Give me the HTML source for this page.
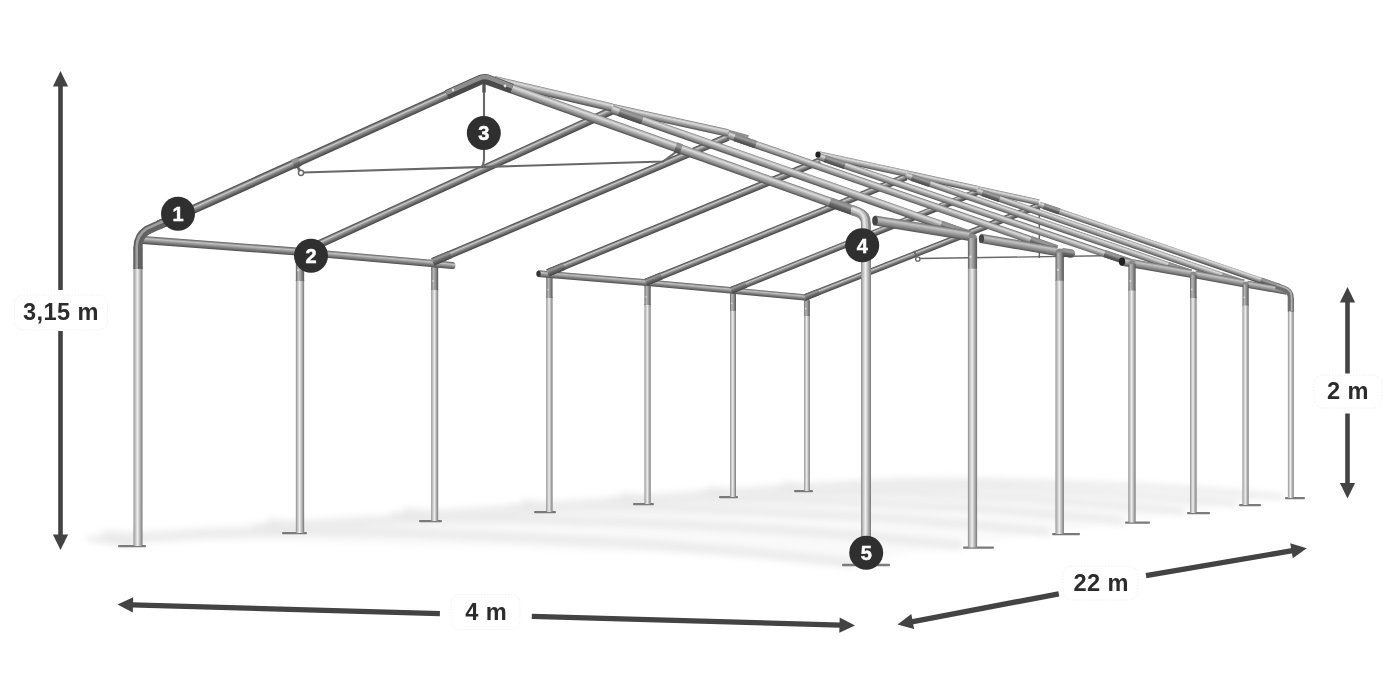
<!DOCTYPE html>
<html lang="en"><head><meta charset="utf-8"><title>Tent frame dimensions</title>
<style>html,body{margin:0;padding:0;background:#fff}body{width:1400px;height:700px;overflow:hidden}
svg{display:block;will-change:transform;font-family:"Liberation Sans",sans-serif}</style></head>
<body><svg width="1400" height="700" viewBox="0 0 1400 700">
<defs><filter id="bl" x="-5%" y="-30%" width="110%" height="160%"><feGaussianBlur stdDeviation="3"/></filter>
<linearGradient id="g1" gradientUnits="userSpaceOnUse" x1="804.15" y1="315.00" x2="809.85" y2="315.00"><stop offset="0" stop-color="#848484"/><stop offset="0.12" stop-color="#b0b0b0"/><stop offset="0.3" stop-color="#d2d2d2"/><stop offset="0.45" stop-color="#f0f0f0"/><stop offset="0.62" stop-color="#cacaca"/><stop offset="0.85" stop-color="#9a9a9a"/><stop offset="1" stop-color="#767676"/></linearGradient>
<linearGradient id="g2" gradientUnits="userSpaceOnUse" x1="804.15" y1="300.85" x2="809.85" y2="300.85"><stop offset="0" stop-color="#5c5c5c"/><stop offset="0.3" stop-color="#b8b8b8"/><stop offset="0.55" stop-color="#9c9c9c"/><stop offset="1" stop-color="#545454"/></linearGradient>
<linearGradient id="g3" gradientUnits="userSpaceOnUse" x1="730.00" y1="310.00" x2="736.00" y2="310.00"><stop offset="0" stop-color="#848484"/><stop offset="0.12" stop-color="#b0b0b0"/><stop offset="0.3" stop-color="#d2d2d2"/><stop offset="0.45" stop-color="#f0f0f0"/><stop offset="0.62" stop-color="#cacaca"/><stop offset="0.85" stop-color="#9a9a9a"/><stop offset="1" stop-color="#767676"/></linearGradient>
<linearGradient id="g4" gradientUnits="userSpaceOnUse" x1="730.00" y1="294.00" x2="736.00" y2="294.00"><stop offset="0" stop-color="#5c5c5c"/><stop offset="0.3" stop-color="#b8b8b8"/><stop offset="0.55" stop-color="#9c9c9c"/><stop offset="1" stop-color="#545454"/></linearGradient>
<linearGradient id="g5" gradientUnits="userSpaceOnUse" x1="644.50" y1="304.00" x2="650.70" y2="304.00"><stop offset="0" stop-color="#848484"/><stop offset="0.12" stop-color="#b0b0b0"/><stop offset="0.3" stop-color="#d2d2d2"/><stop offset="0.45" stop-color="#f0f0f0"/><stop offset="0.62" stop-color="#cacaca"/><stop offset="0.85" stop-color="#9a9a9a"/><stop offset="1" stop-color="#767676"/></linearGradient>
<linearGradient id="g6" gradientUnits="userSpaceOnUse" x1="644.50" y1="286.10" x2="650.70" y2="286.10"><stop offset="0" stop-color="#5c5c5c"/><stop offset="0.3" stop-color="#b8b8b8"/><stop offset="0.55" stop-color="#9c9c9c"/><stop offset="1" stop-color="#545454"/></linearGradient>
<linearGradient id="g7" gradientUnits="userSpaceOnUse" x1="546.25" y1="297.00" x2="552.55" y2="297.00"><stop offset="0" stop-color="#848484"/><stop offset="0.12" stop-color="#b0b0b0"/><stop offset="0.3" stop-color="#d2d2d2"/><stop offset="0.45" stop-color="#f0f0f0"/><stop offset="0.62" stop-color="#cacaca"/><stop offset="0.85" stop-color="#9a9a9a"/><stop offset="1" stop-color="#767676"/></linearGradient>
<linearGradient id="g8" gradientUnits="userSpaceOnUse" x1="546.25" y1="277.15" x2="552.55" y2="277.15"><stop offset="0" stop-color="#5c5c5c"/><stop offset="0.3" stop-color="#b8b8b8"/><stop offset="0.55" stop-color="#9c9c9c"/><stop offset="1" stop-color="#545454"/></linearGradient>
<linearGradient id="g9" gradientUnits="userSpaceOnUse" x1="431.20" y1="289.00" x2="438.20" y2="289.00"><stop offset="0" stop-color="#848484"/><stop offset="0.12" stop-color="#b0b0b0"/><stop offset="0.3" stop-color="#d2d2d2"/><stop offset="0.45" stop-color="#f0f0f0"/><stop offset="0.62" stop-color="#cacaca"/><stop offset="0.85" stop-color="#9a9a9a"/><stop offset="1" stop-color="#767676"/></linearGradient>
<linearGradient id="g10" gradientUnits="userSpaceOnUse" x1="431.20" y1="267.50" x2="438.20" y2="267.50"><stop offset="0" stop-color="#5c5c5c"/><stop offset="0.3" stop-color="#b8b8b8"/><stop offset="0.55" stop-color="#9c9c9c"/><stop offset="1" stop-color="#545454"/></linearGradient>
<linearGradient id="g11" gradientUnits="userSpaceOnUse" x1="295.85" y1="280.00" x2="304.15" y2="280.00"><stop offset="0" stop-color="#848484"/><stop offset="0.12" stop-color="#b0b0b0"/><stop offset="0.3" stop-color="#d2d2d2"/><stop offset="0.45" stop-color="#f0f0f0"/><stop offset="0.62" stop-color="#cacaca"/><stop offset="0.85" stop-color="#9a9a9a"/><stop offset="1" stop-color="#767676"/></linearGradient>
<linearGradient id="g12" gradientUnits="userSpaceOnUse" x1="295.85" y1="256.15" x2="304.15" y2="256.15"><stop offset="0" stop-color="#5c5c5c"/><stop offset="0.3" stop-color="#b8b8b8"/><stop offset="0.55" stop-color="#9c9c9c"/><stop offset="1" stop-color="#545454"/></linearGradient>
<linearGradient id="g13" gradientUnits="userSpaceOnUse" x1="133.50" y1="268.00" x2="142.50" y2="268.00"><stop offset="0" stop-color="#848484"/><stop offset="0.12" stop-color="#b0b0b0"/><stop offset="0.3" stop-color="#d2d2d2"/><stop offset="0.45" stop-color="#f0f0f0"/><stop offset="0.62" stop-color="#cacaca"/><stop offset="0.85" stop-color="#9a9a9a"/><stop offset="1" stop-color="#767676"/></linearGradient>
<linearGradient id="g14" gradientUnits="userSpaceOnUse" x1="133.50" y1="247.50" x2="142.50" y2="247.50"><stop offset="0" stop-color="#5c5c5c"/><stop offset="0.3" stop-color="#b8b8b8"/><stop offset="0.55" stop-color="#9c9c9c"/><stop offset="1" stop-color="#545454"/></linearGradient>
<linearGradient id="g15" gradientUnits="userSpaceOnUse" x1="538.28" y1="270.21" x2="537.72" y2="276.99"><stop offset="0" stop-color="#5c5c5c"/><stop offset="0.12" stop-color="#808080"/><stop offset="0.3" stop-color="#c2c2c2"/><stop offset="0.5" stop-color="#9c9c9c"/><stop offset="0.8" stop-color="#6c6c6c"/><stop offset="1" stop-color="#4c4c4c"/></linearGradient>
<linearGradient id="g16" gradientUnits="userSpaceOnUse" x1="648.30" y1="279.46" x2="647.70" y2="285.94"><stop offset="0" stop-color="#5c5c5c"/><stop offset="0.12" stop-color="#808080"/><stop offset="0.3" stop-color="#c2c2c2"/><stop offset="0.5" stop-color="#9c9c9c"/><stop offset="0.8" stop-color="#6c6c6c"/><stop offset="1" stop-color="#4c4c4c"/></linearGradient>
<linearGradient id="g17" gradientUnits="userSpaceOnUse" x1="733.29" y1="287.51" x2="732.71" y2="293.69"><stop offset="0" stop-color="#5c5c5c"/><stop offset="0.12" stop-color="#808080"/><stop offset="0.3" stop-color="#c2c2c2"/><stop offset="0.5" stop-color="#9c9c9c"/><stop offset="0.8" stop-color="#6c6c6c"/><stop offset="1" stop-color="#4c4c4c"/></linearGradient>
<linearGradient id="g18" gradientUnits="userSpaceOnUse" x1="143.30" y1="236.01" x2="142.70" y2="243.99"><stop offset="0" stop-color="#5c5c5c"/><stop offset="0.12" stop-color="#808080"/><stop offset="0.3" stop-color="#c2c2c2"/><stop offset="0.5" stop-color="#9c9c9c"/><stop offset="0.8" stop-color="#6c6c6c"/><stop offset="1" stop-color="#4c4c4c"/></linearGradient>
<linearGradient id="g19" gradientUnits="userSpaceOnUse" x1="300.32" y1="248.21" x2="299.68" y2="255.59"><stop offset="0" stop-color="#5c5c5c"/><stop offset="0.12" stop-color="#808080"/><stop offset="0.3" stop-color="#c2c2c2"/><stop offset="0.5" stop-color="#9c9c9c"/><stop offset="0.8" stop-color="#6c6c6c"/><stop offset="1" stop-color="#4c4c4c"/></linearGradient>
<linearGradient id="g20" gradientUnits="userSpaceOnUse" x1="436.35" y1="260.52" x2="435.65" y2="267.48"><stop offset="0" stop-color="#5c5c5c"/><stop offset="0.12" stop-color="#808080"/><stop offset="0.3" stop-color="#c2c2c2"/><stop offset="0.5" stop-color="#9c9c9c"/><stop offset="0.8" stop-color="#6c6c6c"/><stop offset="1" stop-color="#4c4c4c"/></linearGradient>
<linearGradient id="g21" gradientUnits="userSpaceOnUse" x1="804.09" y1="294.35" x2="806.39" y2="300.21"><stop offset="0" stop-color="#4c4c4c"/><stop offset="0.1" stop-color="#5c5c5c"/><stop offset="0.2" stop-color="#8a8a8a"/><stop offset="0.33" stop-color="#cecece"/><stop offset="0.46" stop-color="#9c9c9c"/><stop offset="0.72" stop-color="#6c6c6c"/><stop offset="0.9" stop-color="#505050"/><stop offset="1" stop-color="#444"/></linearGradient>
<linearGradient id="g22" gradientUnits="userSpaceOnUse" x1="804.04" y1="294.21" x2="806.45" y2="300.35"><stop offset="0" stop-color="#555"/><stop offset="0.3" stop-color="#9a9a9a"/><stop offset="0.55" stop-color="#707070"/><stop offset="1" stop-color="#444"/></linearGradient>
<linearGradient id="g23" gradientUnits="userSpaceOnUse" x1="730.02" y1="287.24" x2="732.48" y2="293.36"><stop offset="0" stop-color="#4c4c4c"/><stop offset="0.1" stop-color="#5c5c5c"/><stop offset="0.2" stop-color="#8a8a8a"/><stop offset="0.33" stop-color="#cecece"/><stop offset="0.46" stop-color="#9c9c9c"/><stop offset="0.72" stop-color="#6c6c6c"/><stop offset="0.9" stop-color="#505050"/><stop offset="1" stop-color="#444"/></linearGradient>
<linearGradient id="g24" gradientUnits="userSpaceOnUse" x1="729.97" y1="287.10" x2="732.53" y2="293.50"><stop offset="0" stop-color="#555"/><stop offset="0.3" stop-color="#9a9a9a"/><stop offset="0.55" stop-color="#707070"/><stop offset="1" stop-color="#444"/></linearGradient>
<linearGradient id="g25" gradientUnits="userSpaceOnUse" x1="644.44" y1="279.07" x2="647.07" y2="285.56"><stop offset="0" stop-color="#4c4c4c"/><stop offset="0.1" stop-color="#5c5c5c"/><stop offset="0.2" stop-color="#8a8a8a"/><stop offset="0.33" stop-color="#cecece"/><stop offset="0.46" stop-color="#9c9c9c"/><stop offset="0.72" stop-color="#6c6c6c"/><stop offset="0.9" stop-color="#505050"/><stop offset="1" stop-color="#444"/></linearGradient>
<linearGradient id="g26" gradientUnits="userSpaceOnUse" x1="644.39" y1="278.93" x2="647.12" y2="285.70"><stop offset="0" stop-color="#555"/><stop offset="0.3" stop-color="#9a9a9a"/><stop offset="0.55" stop-color="#707070"/><stop offset="1" stop-color="#444"/></linearGradient>
<linearGradient id="g27" gradientUnits="userSpaceOnUse" x1="546.36" y1="269.41" x2="549.17" y2="276.25"><stop offset="0" stop-color="#4c4c4c"/><stop offset="0.1" stop-color="#5c5c5c"/><stop offset="0.2" stop-color="#8a8a8a"/><stop offset="0.33" stop-color="#cecece"/><stop offset="0.46" stop-color="#9c9c9c"/><stop offset="0.72" stop-color="#6c6c6c"/><stop offset="0.9" stop-color="#505050"/><stop offset="1" stop-color="#444"/></linearGradient>
<linearGradient id="g28" gradientUnits="userSpaceOnUse" x1="546.30" y1="269.27" x2="549.23" y2="276.39"><stop offset="0" stop-color="#555"/><stop offset="0.3" stop-color="#9a9a9a"/><stop offset="0.55" stop-color="#707070"/><stop offset="1" stop-color="#444"/></linearGradient>
<linearGradient id="g29" gradientUnits="userSpaceOnUse" x1="431.26" y1="258.27" x2="434.30" y2="265.46"><stop offset="0" stop-color="#4c4c4c"/><stop offset="0.1" stop-color="#5c5c5c"/><stop offset="0.2" stop-color="#8a8a8a"/><stop offset="0.33" stop-color="#cecece"/><stop offset="0.46" stop-color="#9c9c9c"/><stop offset="0.72" stop-color="#6c6c6c"/><stop offset="0.9" stop-color="#505050"/><stop offset="1" stop-color="#444"/></linearGradient>
<linearGradient id="g30" gradientUnits="userSpaceOnUse" x1="431.20" y1="258.13" x2="434.35" y2="265.59"><stop offset="0" stop-color="#555"/><stop offset="0.3" stop-color="#9a9a9a"/><stop offset="0.55" stop-color="#707070"/><stop offset="1" stop-color="#444"/></linearGradient>
<linearGradient id="g31" gradientUnits="userSpaceOnUse" x1="297.09" y1="249.68" x2="300.54" y2="257.23"><stop offset="0" stop-color="#4c4c4c"/><stop offset="0.1" stop-color="#5c5c5c"/><stop offset="0.2" stop-color="#8a8a8a"/><stop offset="0.33" stop-color="#cecece"/><stop offset="0.46" stop-color="#9c9c9c"/><stop offset="0.72" stop-color="#6c6c6c"/><stop offset="0.9" stop-color="#505050"/><stop offset="1" stop-color="#444"/></linearGradient>
<linearGradient id="g32" gradientUnits="userSpaceOnUse" x1="297.03" y1="249.54" x2="300.60" y2="257.37"><stop offset="0" stop-color="#555"/><stop offset="0.3" stop-color="#9a9a9a"/><stop offset="0.55" stop-color="#707070"/><stop offset="1" stop-color="#444"/></linearGradient>
<linearGradient id="g33" gradientUnits="userSpaceOnUse" x1="156.19" y1="221.29" x2="159.81" y2="229.31"><stop offset="0" stop-color="#4c4c4c"/><stop offset="0.1" stop-color="#5c5c5c"/><stop offset="0.2" stop-color="#8a8a8a"/><stop offset="0.33" stop-color="#cecece"/><stop offset="0.46" stop-color="#9c9c9c"/><stop offset="0.72" stop-color="#6c6c6c"/><stop offset="0.9" stop-color="#505050"/><stop offset="1" stop-color="#444"/></linearGradient>
<linearGradient id="g34" gradientUnits="userSpaceOnUse" x1="156.13" y1="221.15" x2="159.87" y2="229.45"><stop offset="0" stop-color="#555"/><stop offset="0.3" stop-color="#9a9a9a"/><stop offset="0.55" stop-color="#707070"/><stop offset="1" stop-color="#444"/></linearGradient>
<linearGradient id="g35" gradientUnits="userSpaceOnUse" x1="291.09" y1="159.83" x2="295.12" y2="168.76"><stop offset="0" stop-color="#868686"/><stop offset="0.35" stop-color="#9c9c9c"/><stop offset="0.6" stop-color="#666"/><stop offset="1" stop-color="#484848"/></linearGradient>
<linearGradient id="g36" gradientUnits="userSpaceOnUse" x1="977.65" y1="186.02" x2="976.35" y2="191.98"><stop offset="0" stop-color="#787878"/><stop offset="0.12" stop-color="#b8b8b8"/><stop offset="0.28" stop-color="#dcdcdc"/><stop offset="0.5" stop-color="#b0b0b0"/><stop offset="0.78" stop-color="#808080"/><stop offset="0.92" stop-color="#5c5c5c"/><stop offset="1" stop-color="#4e4e4e"/></linearGradient>
<linearGradient id="g37" gradientUnits="userSpaceOnUse" x1="906.68" y1="170.37" x2="905.32" y2="176.63"><stop offset="0" stop-color="#787878"/><stop offset="0.12" stop-color="#b8b8b8"/><stop offset="0.28" stop-color="#dcdcdc"/><stop offset="0.5" stop-color="#b0b0b0"/><stop offset="0.78" stop-color="#808080"/><stop offset="0.92" stop-color="#5c5c5c"/><stop offset="1" stop-color="#4e4e4e"/></linearGradient>
<linearGradient id="g38" gradientUnits="userSpaceOnUse" x1="819.22" y1="151.18" x2="817.78" y2="157.82"><stop offset="0" stop-color="#787878"/><stop offset="0.12" stop-color="#b8b8b8"/><stop offset="0.28" stop-color="#dcdcdc"/><stop offset="0.5" stop-color="#b0b0b0"/><stop offset="0.78" stop-color="#808080"/><stop offset="0.92" stop-color="#5c5c5c"/><stop offset="1" stop-color="#4e4e4e"/></linearGradient>
<linearGradient id="g39" gradientUnits="userSpaceOnUse" x1="1039.97" y1="201.66" x2="1038.03" y2="207.34"><stop offset="0" stop-color="#787878"/><stop offset="0.12" stop-color="#b8b8b8"/><stop offset="0.28" stop-color="#dcdcdc"/><stop offset="0.5" stop-color="#b0b0b0"/><stop offset="0.78" stop-color="#808080"/><stop offset="0.92" stop-color="#5c5c5c"/><stop offset="1" stop-color="#4e4e4e"/></linearGradient>
<linearGradient id="g40" gradientUnits="userSpaceOnUse" x1="1044.83" y1="203.22" x2="1042.81" y2="209.09"><stop offset="0" stop-color="#868686"/><stop offset="0.35" stop-color="#9c9c9c"/><stop offset="0.6" stop-color="#666"/><stop offset="1" stop-color="#484848"/></linearGradient>
<linearGradient id="g41" gradientUnits="userSpaceOnUse" x1="1261.76" y1="277.56" x2="1259.68" y2="283.61"><stop offset="0" stop-color="#868686"/><stop offset="0.35" stop-color="#9c9c9c"/><stop offset="0.6" stop-color="#666"/><stop offset="1" stop-color="#484848"/></linearGradient>
<linearGradient id="g42" gradientUnits="userSpaceOnUse" x1="978.03" y1="188.02" x2="975.97" y2="193.98"><stop offset="0" stop-color="#787878"/><stop offset="0.12" stop-color="#b8b8b8"/><stop offset="0.28" stop-color="#dcdcdc"/><stop offset="0.5" stop-color="#b0b0b0"/><stop offset="0.78" stop-color="#808080"/><stop offset="0.92" stop-color="#5c5c5c"/><stop offset="1" stop-color="#4e4e4e"/></linearGradient>
<linearGradient id="g43" gradientUnits="userSpaceOnUse" x1="983.38" y1="189.77" x2="981.26" y2="195.91"><stop offset="0" stop-color="#868686"/><stop offset="0.35" stop-color="#9c9c9c"/><stop offset="0.6" stop-color="#666"/><stop offset="1" stop-color="#484848"/></linearGradient>
<linearGradient id="g44" gradientUnits="userSpaceOnUse" x1="1222.82" y1="272.47" x2="1220.62" y2="278.81"><stop offset="0" stop-color="#868686"/><stop offset="0.35" stop-color="#9c9c9c"/><stop offset="0.6" stop-color="#666"/><stop offset="1" stop-color="#484848"/></linearGradient>
<linearGradient id="g45" gradientUnits="userSpaceOnUse" x1="907.07" y1="172.38" x2="904.93" y2="178.62"><stop offset="0" stop-color="#787878"/><stop offset="0.12" stop-color="#b8b8b8"/><stop offset="0.28" stop-color="#dcdcdc"/><stop offset="0.5" stop-color="#b0b0b0"/><stop offset="0.78" stop-color="#808080"/><stop offset="0.92" stop-color="#5c5c5c"/><stop offset="1" stop-color="#4e4e4e"/></linearGradient>
<linearGradient id="g46" gradientUnits="userSpaceOnUse" x1="912.80" y1="174.23" x2="910.59" y2="180.67"><stop offset="0" stop-color="#868686"/><stop offset="0.35" stop-color="#9c9c9c"/><stop offset="0.6" stop-color="#666"/><stop offset="1" stop-color="#484848"/></linearGradient>
<linearGradient id="g47" gradientUnits="userSpaceOnUse" x1="1169.06" y1="261.89" x2="1166.79" y2="268.51"><stop offset="0" stop-color="#868686"/><stop offset="0.35" stop-color="#9c9c9c"/><stop offset="0.6" stop-color="#666"/><stop offset="1" stop-color="#484848"/></linearGradient>
<linearGradient id="g48" gradientUnits="userSpaceOnUse" x1="819.63" y1="153.19" x2="817.37" y2="159.81"><stop offset="0" stop-color="#787878"/><stop offset="0.12" stop-color="#b8b8b8"/><stop offset="0.28" stop-color="#dcdcdc"/><stop offset="0.5" stop-color="#b0b0b0"/><stop offset="0.78" stop-color="#808080"/><stop offset="0.92" stop-color="#5c5c5c"/><stop offset="1" stop-color="#4e4e4e"/></linearGradient>
<linearGradient id="g49" gradientUnits="userSpaceOnUse" x1="825.87" y1="155.20" x2="823.56" y2="162.02"><stop offset="0" stop-color="#868686"/><stop offset="0.35" stop-color="#9c9c9c"/><stop offset="0.6" stop-color="#666"/><stop offset="1" stop-color="#484848"/></linearGradient>
<linearGradient id="g50" gradientUnits="userSpaceOnUse" x1="1105.63" y1="250.06" x2="1103.25" y2="257.06"><stop offset="0" stop-color="#868686"/><stop offset="0.35" stop-color="#9c9c9c"/><stop offset="0.6" stop-color="#666"/><stop offset="1" stop-color="#484848"/></linearGradient>
<linearGradient id="g51" gradientUnits="userSpaceOnUse" x1="1121.73" y1="257.16" x2="1120.27" y2="265.44"><stop offset="0" stop-color="#6a6a6a"/><stop offset="0.1" stop-color="#8c8c8c"/><stop offset="0.28" stop-color="#c4c4c4"/><stop offset="0.5" stop-color="#a4a4a4"/><stop offset="0.8" stop-color="#787878"/><stop offset="1" stop-color="#505050"/></linearGradient>
<linearGradient id="g52" gradientUnits="userSpaceOnUse" x1="1195.70" y1="270.61" x2="1194.30" y2="278.19"><stop offset="0" stop-color="#6a6a6a"/><stop offset="0.1" stop-color="#8c8c8c"/><stop offset="0.28" stop-color="#c4c4c4"/><stop offset="0.5" stop-color="#a4a4a4"/><stop offset="0.8" stop-color="#787878"/><stop offset="1" stop-color="#505050"/></linearGradient>
<linearGradient id="g53" gradientUnits="userSpaceOnUse" x1="1247.61" y1="280.75" x2="1246.39" y2="287.65"><stop offset="0" stop-color="#6a6a6a"/><stop offset="0.1" stop-color="#8c8c8c"/><stop offset="0.28" stop-color="#c4c4c4"/><stop offset="0.5" stop-color="#a4a4a4"/><stop offset="0.8" stop-color="#787878"/><stop offset="1" stop-color="#505050"/></linearGradient>
<linearGradient id="g54" gradientUnits="userSpaceOnUse" x1="1287.90" y1="310.80" x2="1293.70" y2="310.80"><stop offset="0" stop-color="#848484"/><stop offset="0.12" stop-color="#b0b0b0"/><stop offset="0.3" stop-color="#d2d2d2"/><stop offset="0.45" stop-color="#f0f0f0"/><stop offset="0.62" stop-color="#cacaca"/><stop offset="0.85" stop-color="#9a9a9a"/><stop offset="1" stop-color="#767676"/></linearGradient>
<linearGradient id="g55" gradientUnits="userSpaceOnUse" x1="1287.90" y1="298.90" x2="1293.70" y2="298.90"><stop offset="0" stop-color="#5c5c5c"/><stop offset="0.3" stop-color="#b8b8b8"/><stop offset="0.55" stop-color="#9c9c9c"/><stop offset="1" stop-color="#545454"/></linearGradient>
<linearGradient id="g56" gradientUnits="userSpaceOnUse" x1="1242.50" y1="304.50" x2="1248.70" y2="304.50"><stop offset="0" stop-color="#848484"/><stop offset="0.12" stop-color="#b0b0b0"/><stop offset="0.3" stop-color="#d2d2d2"/><stop offset="0.45" stop-color="#f0f0f0"/><stop offset="0.62" stop-color="#cacaca"/><stop offset="0.85" stop-color="#9a9a9a"/><stop offset="1" stop-color="#767676"/></linearGradient>
<linearGradient id="g57" gradientUnits="userSpaceOnUse" x1="1242.50" y1="284.60" x2="1248.70" y2="284.60"><stop offset="0" stop-color="#5c5c5c"/><stop offset="0.3" stop-color="#b8b8b8"/><stop offset="0.55" stop-color="#9c9c9c"/><stop offset="1" stop-color="#545454"/></linearGradient>
<linearGradient id="g58" gradientUnits="userSpaceOnUse" x1="1190.00" y1="297.00" x2="1196.60" y2="297.00"><stop offset="0" stop-color="#848484"/><stop offset="0.12" stop-color="#b0b0b0"/><stop offset="0.3" stop-color="#d2d2d2"/><stop offset="0.45" stop-color="#f0f0f0"/><stop offset="0.62" stop-color="#cacaca"/><stop offset="0.85" stop-color="#9a9a9a"/><stop offset="1" stop-color="#767676"/></linearGradient>
<linearGradient id="g59" gradientUnits="userSpaceOnUse" x1="1190.00" y1="274.80" x2="1196.60" y2="274.80"><stop offset="0" stop-color="#5c5c5c"/><stop offset="0.3" stop-color="#b8b8b8"/><stop offset="0.55" stop-color="#9c9c9c"/><stop offset="1" stop-color="#545454"/></linearGradient>
<linearGradient id="g60" gradientUnits="userSpaceOnUse" x1="1128.35" y1="289.50" x2="1135.65" y2="289.50"><stop offset="0" stop-color="#848484"/><stop offset="0.12" stop-color="#b0b0b0"/><stop offset="0.3" stop-color="#d2d2d2"/><stop offset="0.45" stop-color="#f0f0f0"/><stop offset="0.62" stop-color="#cacaca"/><stop offset="0.85" stop-color="#9a9a9a"/><stop offset="1" stop-color="#767676"/></linearGradient>
<linearGradient id="g61" gradientUnits="userSpaceOnUse" x1="1128.35" y1="264.15" x2="1135.65" y2="264.15"><stop offset="0" stop-color="#5c5c5c"/><stop offset="0.3" stop-color="#b8b8b8"/><stop offset="0.55" stop-color="#9c9c9c"/><stop offset="1" stop-color="#545454"/></linearGradient>
<linearGradient id="g62" gradientUnits="userSpaceOnUse" x1="612.82" y1="103.79" x2="611.18" y2="111.21"><stop offset="0" stop-color="#787878"/><stop offset="0.12" stop-color="#b8b8b8"/><stop offset="0.28" stop-color="#dcdcdc"/><stop offset="0.5" stop-color="#b0b0b0"/><stop offset="0.78" stop-color="#808080"/><stop offset="0.92" stop-color="#5c5c5c"/><stop offset="1" stop-color="#4e4e4e"/></linearGradient>
<linearGradient id="g63" gradientUnits="userSpaceOnUse" x1="494.93" y1="75.91" x2="493.07" y2="83.89"><stop offset="0" stop-color="#787878"/><stop offset="0.12" stop-color="#b8b8b8"/><stop offset="0.28" stop-color="#dcdcdc"/><stop offset="0.5" stop-color="#b0b0b0"/><stop offset="0.78" stop-color="#808080"/><stop offset="0.92" stop-color="#5c5c5c"/><stop offset="1" stop-color="#4e4e4e"/></linearGradient>
<linearGradient id="g64" gradientUnits="userSpaceOnUse" x1="728.88" y1="129.82" x2="727.12" y2="136.18"><stop offset="0" stop-color="#868686"/><stop offset="0.35" stop-color="#9c9c9c"/><stop offset="0.6" stop-color="#666"/><stop offset="1" stop-color="#484848"/></linearGradient>
<linearGradient id="g65" gradientUnits="userSpaceOnUse" x1="729.25" y1="131.41" x2="726.75" y2="138.59"><stop offset="0" stop-color="#787878"/><stop offset="0.12" stop-color="#b8b8b8"/><stop offset="0.28" stop-color="#dcdcdc"/><stop offset="0.5" stop-color="#b0b0b0"/><stop offset="0.78" stop-color="#808080"/><stop offset="0.92" stop-color="#5c5c5c"/><stop offset="1" stop-color="#4e4e4e"/></linearGradient>
<linearGradient id="g66" gradientUnits="userSpaceOnUse" x1="735.85" y1="133.60" x2="733.30" y2="140.96"><stop offset="0" stop-color="#868686"/><stop offset="0.35" stop-color="#9c9c9c"/><stop offset="0.6" stop-color="#666"/><stop offset="1" stop-color="#484848"/></linearGradient>
<linearGradient id="g67" gradientUnits="userSpaceOnUse" x1="1031.71" y1="236.10" x2="1029.09" y2="243.66"><stop offset="0" stop-color="#868686"/><stop offset="0.35" stop-color="#9c9c9c"/><stop offset="0.6" stop-color="#666"/><stop offset="1" stop-color="#484848"/></linearGradient>
<linearGradient id="g68" gradientUnits="userSpaceOnUse" x1="613.39" y1="105.54" x2="610.61" y2="113.46"><stop offset="0" stop-color="#787878"/><stop offset="0.12" stop-color="#b8b8b8"/><stop offset="0.28" stop-color="#dcdcdc"/><stop offset="0.5" stop-color="#b0b0b0"/><stop offset="0.78" stop-color="#808080"/><stop offset="0.92" stop-color="#5c5c5c"/><stop offset="1" stop-color="#4e4e4e"/></linearGradient>
<linearGradient id="g69" gradientUnits="userSpaceOnUse" x1="620.57" y1="107.95" x2="617.73" y2="116.07"><stop offset="0" stop-color="#868686"/><stop offset="0.35" stop-color="#9c9c9c"/><stop offset="0.6" stop-color="#666"/><stop offset="1" stop-color="#484848"/></linearGradient>
<linearGradient id="g70" gradientUnits="userSpaceOnUse" x1="942.36" y1="220.81" x2="939.44" y2="229.11"><stop offset="0" stop-color="#868686"/><stop offset="0.35" stop-color="#9c9c9c"/><stop offset="0.6" stop-color="#666"/><stop offset="1" stop-color="#484848"/></linearGradient>
<linearGradient id="g71" gradientUnits="userSpaceOnUse" x1="485.58" y1="74.57" x2="482.42" y2="83.43"><stop offset="0" stop-color="#787878"/><stop offset="0.12" stop-color="#b8b8b8"/><stop offset="0.28" stop-color="#dcdcdc"/><stop offset="0.5" stop-color="#b0b0b0"/><stop offset="0.78" stop-color="#808080"/><stop offset="0.92" stop-color="#5c5c5c"/><stop offset="1" stop-color="#4e4e4e"/></linearGradient>
<linearGradient id="g72" gradientUnits="userSpaceOnUse" x1="677.32" y1="142.34" x2="673.84" y2="152.14"><stop offset="0" stop-color="#868686"/><stop offset="0.35" stop-color="#9c9c9c"/><stop offset="0.6" stop-color="#666"/><stop offset="1" stop-color="#484848"/></linearGradient>
<linearGradient id="g73" gradientUnits="userSpaceOnUse" x1="831.60" y1="197.61" x2="828.32" y2="206.84"><stop offset="0" stop-color="#868686"/><stop offset="0.35" stop-color="#9c9c9c"/><stop offset="0.6" stop-color="#666"/><stop offset="1" stop-color="#484848"/></linearGradient>
<linearGradient id="g74" gradientUnits="userSpaceOnUse" x1="874.80" y1="215.46" x2="873.20" y2="225.34"><stop offset="0" stop-color="#6a6a6a"/><stop offset="0.1" stop-color="#8c8c8c"/><stop offset="0.28" stop-color="#c4c4c4"/><stop offset="0.5" stop-color="#a4a4a4"/><stop offset="0.8" stop-color="#787878"/><stop offset="1" stop-color="#505050"/></linearGradient>
<linearGradient id="g75" gradientUnits="userSpaceOnUse" x1="980.77" y1="233.77" x2="979.23" y2="242.83"><stop offset="0" stop-color="#6a6a6a"/><stop offset="0.1" stop-color="#8c8c8c"/><stop offset="0.28" stop-color="#c4c4c4"/><stop offset="0.5" stop-color="#a4a4a4"/><stop offset="0.8" stop-color="#787878"/><stop offset="1" stop-color="#505050"/></linearGradient>
<linearGradient id="g76" gradientUnits="userSpaceOnUse" x1="1064.71" y1="248.16" x2="1063.29" y2="256.44"><stop offset="0" stop-color="#868686"/><stop offset="0.35" stop-color="#9c9c9c"/><stop offset="0.6" stop-color="#666"/><stop offset="1" stop-color="#484848"/></linearGradient>
<linearGradient id="g77" gradientUnits="userSpaceOnUse" x1="1055.50" y1="279.70" x2="1063.90" y2="279.70"><stop offset="0" stop-color="#848484"/><stop offset="0.12" stop-color="#b0b0b0"/><stop offset="0.3" stop-color="#d2d2d2"/><stop offset="0.45" stop-color="#f0f0f0"/><stop offset="0.62" stop-color="#cacaca"/><stop offset="0.85" stop-color="#9a9a9a"/><stop offset="1" stop-color="#767676"/></linearGradient>
<linearGradient id="g78" gradientUnits="userSpaceOnUse" x1="1055.50" y1="252.70" x2="1063.90" y2="252.70"><stop offset="0" stop-color="#5c5c5c"/><stop offset="0.3" stop-color="#b8b8b8"/><stop offset="0.55" stop-color="#9c9c9c"/><stop offset="1" stop-color="#545454"/></linearGradient>
<linearGradient id="g79" gradientUnits="userSpaceOnUse" x1="967.90" y1="267.70" x2="977.10" y2="267.70"><stop offset="0" stop-color="#848484"/><stop offset="0.12" stop-color="#b0b0b0"/><stop offset="0.3" stop-color="#d2d2d2"/><stop offset="0.45" stop-color="#f0f0f0"/><stop offset="0.62" stop-color="#cacaca"/><stop offset="0.85" stop-color="#9a9a9a"/><stop offset="1" stop-color="#767676"/></linearGradient>
<linearGradient id="g80" gradientUnits="userSpaceOnUse" x1="967.90" y1="238.10" x2="977.10" y2="238.10"><stop offset="0" stop-color="#5c5c5c"/><stop offset="0.3" stop-color="#b8b8b8"/><stop offset="0.55" stop-color="#9c9c9c"/><stop offset="1" stop-color="#545454"/></linearGradient>
<linearGradient id="g81" gradientUnits="userSpaceOnUse" x1="861.00" y1="228.00" x2="871.00" y2="228.00"><stop offset="0" stop-color="#848484"/><stop offset="0.12" stop-color="#b0b0b0"/><stop offset="0.3" stop-color="#d2d2d2"/><stop offset="0.45" stop-color="#f0f0f0"/><stop offset="0.62" stop-color="#cacaca"/><stop offset="0.85" stop-color="#9a9a9a"/><stop offset="1" stop-color="#767676"/></linearGradient></defs>
<rect width="1400" height="700" fill="#fff"/>
<g filter="url(#bl)" opacity=".72"><polygon points="100,536 138,530 807,487 1291,494 1200,510 866,560 500,548" fill="#f8f8f8"/><path d="M101.6 535.0 L138.0 538.0 L210.8 533.9 L298.2 531.2 L400.1 532.8 L502.0 536.5 L647.6 544.3 L756.8 553.1 L855.1 563.2" stroke="#e5e5e5" stroke-width="10.0" fill="none" stroke-linejoin="round"/><path d="M134.0 545.0 L88.0 538.0" stroke="#dedede" stroke-width="5.0"/><path d="M266.4 522.9 L300.0 525.5 L367.2 521.3 L447.9 518.4 L542.1 519.5 L636.2 522.4 L770.8 529.1 L871.6 536.9 L962.4 545.9" stroke="#e5e5e5" stroke-width="9.4" fill="none" stroke-linejoin="round"/><path d="M296.0 532.0 L253.2 525.5" stroke="#dedede" stroke-width="4.7"/><path d="M403.4 511.6 L434.7 514.0 L497.2 510.1 L572.2 507.3 L659.7 508.2 L747.2 510.9 L872.2 517.0 L966.0 524.2 L1050.3 532.5" stroke="#e5e5e5" stroke-width="8.7" fill="none" stroke-linejoin="round"/><path d="M430.7 520.0 L391.0 514.0" stroke="#dedede" stroke-width="4.4"/><path d="M520.3 503.4 L549.4 505.5 L607.7 501.7 L677.6 498.9 L759.1 499.6 L840.7 501.8 L957.2 507.2 L1044.6 513.6 L1123.3 521.1" stroke="#e5e5e5" stroke-width="8.1" fill="none" stroke-linejoin="round"/><path d="M545.4 511.0 L508.8 505.5" stroke="#dedede" stroke-width="4.1"/><path d="M620.3 496.1 L647.6 498.0 L702.2 494.4 L767.7 491.8 L844.1 492.3 L920.5 494.3 L1029.6 499.1 L1111.4 504.9 L1185.1 511.7" stroke="#e5e5e5" stroke-width="7.5" fill="none" stroke-linejoin="round"/><path d="M643.6 503.0 L610.2 498.0" stroke="#dedede" stroke-width="3.7"/><path d="M707.4 489.8 L733.0 491.5 L784.3 488.2 L845.8 485.7 L917.5 486.2 L989.3 488.0 L1091.8 492.3 L1168.7 497.6 L1237.9 503.9" stroke="#e5e5e5" stroke-width="6.9" fill="none" stroke-linejoin="round"/><path d="M729.0 496.0 L698.8 491.5" stroke="#dedede" stroke-width="3.4"/><path d="M782.8 484.4 L807.0 486.0 L855.4 483.0 L913.4 480.7 L981.2 481.1 L1048.9 482.7 L1145.7 486.6 L1218.2 491.4 L1283.5 497.0" stroke="#e5e5e5" stroke-width="6.2" fill="none" stroke-linejoin="round"/><path d="M803.0 490.0 L775.9 486.0" stroke="#dedede" stroke-width="3.1"/></g>
<rect x="794.0" y="490.1" width="19.0" height="2.2" rx="1" fill="#7a7a7a"/>
<line x1="807.00" y1="315.00" x2="807.00" y2="491.00" stroke="url(#g1)" stroke-width="5.70" stroke-linecap="butt"/>
<circle cx="807.0" cy="300.9" r="2.85" fill="#8a8a8a"/>
<line x1="807.00" y1="300.85" x2="807.00" y2="316.00" stroke="url(#g2)" stroke-width="5.70" stroke-linecap="butt"/>
<circle cx="805.7" cy="308.6" r="0.80" fill="#d8d8d8"/>
<rect x="719.0" y="496.1" width="19.0" height="2.2" rx="1" fill="#7a7a7a"/>
<line x1="733.00" y1="310.00" x2="733.00" y2="497.00" stroke="url(#g3)" stroke-width="6.00" stroke-linecap="butt"/>
<circle cx="733.0" cy="294.0" r="3.00" fill="#8a8a8a"/>
<line x1="733.00" y1="294.00" x2="733.00" y2="311.00" stroke="url(#g4)" stroke-width="6.00" stroke-linecap="butt"/>
<circle cx="731.7" cy="303.2" r="0.80" fill="#d8d8d8"/>
<rect x="633.0" y="503.1" width="21.0" height="2.2" rx="1" fill="#7a7a7a"/>
<line x1="647.60" y1="304.00" x2="647.60" y2="504.00" stroke="url(#g5)" stroke-width="6.20" stroke-linecap="butt"/>
<circle cx="647.6" cy="286.1" r="3.10" fill="#8a8a8a"/>
<line x1="647.60" y1="286.10" x2="647.60" y2="305.00" stroke="url(#g6)" stroke-width="6.20" stroke-linecap="butt"/>
<circle cx="646.2" cy="296.9" r="0.81" fill="#d8d8d8"/>
<rect x="534.0" y="511.1" width="22.0" height="2.2" rx="1" fill="#7a7a7a"/>
<line x1="549.40" y1="297.00" x2="549.40" y2="512.00" stroke="url(#g7)" stroke-width="6.30" stroke-linecap="butt"/>
<circle cx="549.4" cy="277.1" r="3.15" fill="#8a8a8a"/>
<line x1="549.40" y1="277.15" x2="549.40" y2="298.00" stroke="url(#g8)" stroke-width="6.30" stroke-linecap="butt"/>
<circle cx="548.0" cy="289.8" r="0.82" fill="#d8d8d8"/>
<rect x="419.0" y="520.1" width="23.0" height="2.2" rx="1" fill="#7a7a7a"/>
<line x1="434.70" y1="289.00" x2="434.70" y2="521.00" stroke="url(#g9)" stroke-width="7.00" stroke-linecap="butt"/>
<circle cx="434.7" cy="267.5" r="3.50" fill="#8a8a8a"/>
<line x1="434.70" y1="267.50" x2="434.70" y2="290.00" stroke="url(#g10)" stroke-width="7.00" stroke-linecap="butt"/>
<circle cx="433.2" cy="280.9" r="0.91" fill="#d8d8d8"/>
<rect x="282.0" y="532.1" width="25.0" height="2.2" rx="1" fill="#7a7a7a"/>
<line x1="300.00" y1="280.00" x2="300.00" y2="533.00" stroke="url(#g11)" stroke-width="8.30" stroke-linecap="butt"/>
<circle cx="300.0" cy="256.1" r="4.15" fill="#8a8a8a"/>
<line x1="300.00" y1="256.15" x2="300.00" y2="281.00" stroke="url(#g12)" stroke-width="8.30" stroke-linecap="butt"/>
<circle cx="298.2" cy="270.2" r="1.08" fill="#d8d8d8"/>
<rect x="118.0" y="545.1" width="28.0" height="2.2" rx="1" fill="#7a7a7a"/>
<line x1="138.00" y1="268.00" x2="138.00" y2="546.00" stroke="url(#g13)" stroke-width="9.00" stroke-linecap="butt"/>
<circle cx="138.0" cy="247.5" r="4.50" fill="#8a8a8a"/>
<line x1="138.00" y1="247.50" x2="138.00" y2="269.00" stroke="url(#g14)" stroke-width="9.00" stroke-linecap="butt"/>
<circle cx="136.0" cy="257.3" r="1.17" fill="#d8d8d8"/>
<line x1="538.00" y1="273.60" x2="647.00" y2="282.60" stroke="url(#g15)" stroke-width="6.80" stroke-linecap="butt"/>
<line x1="648.00" y1="282.70" x2="733.00" y2="290.60" stroke="url(#g16)" stroke-width="6.50" stroke-linecap="butt"/>
<line x1="733.00" y1="290.60" x2="807.00" y2="297.60" stroke="url(#g17)" stroke-width="6.20" stroke-linecap="butt"/>
<ellipse cx="538.5" cy="273.7" rx="2.2" ry="3" fill="#333"/>
<line x1="143.00" y1="240.00" x2="300.00" y2="251.70" stroke="url(#g18)" stroke-width="8.00" stroke-linecap="butt"/>
<line x1="300.00" y1="251.90" x2="437.00" y2="263.90" stroke="url(#g19)" stroke-width="7.40" stroke-linecap="butt"/>
<line x1="436.00" y1="264.00" x2="452.00" y2="265.60" stroke="url(#g20)" stroke-width="7.00" stroke-linecap="round"/>
<line x1="805.24" y1="297.28" x2="1039.00" y2="205.50" stroke="url(#g21)" stroke-width="6.30" stroke-linecap="butt"/>
<line x1="805.24" y1="297.28" x2="819.27" y2="291.77" stroke="url(#g22)" stroke-width="6.60" stroke-linecap="butt"/>
<line x1="731.25" y1="290.30" x2="977.00" y2="192.00" stroke="url(#g23)" stroke-width="6.60" stroke-linecap="butt"/>
<line x1="731.25" y1="290.30" x2="746.00" y2="284.40" stroke="url(#g24)" stroke-width="6.90" stroke-linecap="butt"/>
<line x1="645.76" y1="282.31" x2="906.00" y2="177.00" stroke="url(#g25)" stroke-width="7.00" stroke-linecap="butt"/>
<line x1="645.76" y1="282.31" x2="661.37" y2="275.99" stroke="url(#g26)" stroke-width="7.30" stroke-linecap="butt"/>
<line x1="547.76" y1="272.83" x2="820.00" y2="161.00" stroke="url(#g27)" stroke-width="7.40" stroke-linecap="butt"/>
<line x1="547.76" y1="272.83" x2="564.10" y2="266.12" stroke="url(#g28)" stroke-width="7.70" stroke-linecap="butt"/>
<line x1="432.78" y1="261.86" x2="728.00" y2="137.00" stroke="url(#g29)" stroke-width="7.80" stroke-linecap="butt"/>
<line x1="432.78" y1="261.86" x2="450.49" y2="254.37" stroke="url(#g30)" stroke-width="8.10" stroke-linecap="butt"/>
<line x1="298.82" y1="253.45" x2="612.00" y2="110.50" stroke="url(#g31)" stroke-width="8.30" stroke-linecap="butt"/>
<line x1="298.82" y1="253.45" x2="317.61" y2="244.88" stroke="url(#g32)" stroke-width="8.60" stroke-linecap="butt"/>
<line x1="158.00" y1="225.30" x2="482.00" y2="79.00" stroke="url(#g33)" stroke-width="8.80" stroke-linecap="butt"/>
<line x1="158.00" y1="225.30" x2="177.44" y2="216.52" stroke="url(#g34)" stroke-width="9.10" stroke-linecap="butt"/>
<g stroke="#686868" stroke-width="2.1" fill="none"><path d="M303 172.5 L663 161.5 L676 152"/><path d="M484 86V160L482.3 168"/><path d="M484 84V92.5" stroke="#555" stroke-width="3.4"/><path d="M296 164l4 7" stroke-width="2.6"/><circle cx="301" cy="172.8" r="2.6" stroke-width="1.5"/><path d="M919 258.5 L1103 255.8" stroke-width="1.4"/><path d="M1039.3 208V258" stroke-width="1.5"/><circle cx="917.8" cy="259" r="2.2" stroke-width="1.3"/><path d="M914 251l3 6" stroke-width="2"/></g>
<line x1="293.11" y1="164.29" x2="299.59" y2="161.37" stroke="url(#g35)" stroke-width="9.80" stroke-linecap="butt"/>
<line x1="977.00" y1="189.00" x2="1039.00" y2="202.50" stroke="url(#g36)" stroke-width="6.10" stroke-linecap="butt"/>
<line x1="906.00" y1="173.50" x2="977.00" y2="189.00" stroke="url(#g37)" stroke-width="6.40" stroke-linecap="butt"/>
<line x1="818.50" y1="154.50" x2="906.00" y2="173.50" stroke="url(#g38)" stroke-width="6.80" stroke-linecap="butt"/>
<line x1="1039.00" y1="204.50" x2="1280.00" y2="287.20" stroke="url(#g39)" stroke-width="6.00" stroke-linecap="butt"/>
<line x1="1043.82" y1="206.15" x2="1059.48" y2="211.53" stroke="url(#g40)" stroke-width="6.20" stroke-linecap="butt"/>
<line x1="1260.72" y1="280.58" x2="1280.00" y2="287.20" stroke="url(#g41)" stroke-width="6.40" stroke-linecap="butt"/>
<line x1="977.00" y1="191.00" x2="1243.00" y2="283.00" stroke="url(#g42)" stroke-width="6.30" stroke-linecap="butt"/>
<line x1="982.32" y1="192.84" x2="999.61" y2="198.82" stroke="url(#g43)" stroke-width="6.50" stroke-linecap="butt"/>
<line x1="1221.72" y1="275.64" x2="1243.00" y2="283.00" stroke="url(#g44)" stroke-width="6.70" stroke-linecap="butt"/>
<line x1="906.00" y1="175.50" x2="1190.70" y2="273.00" stroke="url(#g45)" stroke-width="6.60" stroke-linecap="butt"/>
<line x1="911.69" y1="177.45" x2="930.20" y2="183.79" stroke="url(#g46)" stroke-width="6.80" stroke-linecap="butt"/>
<line x1="1167.92" y1="265.20" x2="1190.70" y2="273.00" stroke="url(#g47)" stroke-width="7.00" stroke-linecap="butt"/>
<line x1="818.50" y1="156.50" x2="1129.30" y2="262.00" stroke="url(#g48)" stroke-width="7.00" stroke-linecap="butt"/>
<line x1="824.72" y1="158.61" x2="844.92" y2="165.47" stroke="url(#g49)" stroke-width="7.20" stroke-linecap="butt"/>
<line x1="1104.44" y1="253.56" x2="1129.30" y2="262.00" stroke="url(#g50)" stroke-width="7.40" stroke-linecap="butt"/>
<ellipse cx="818" cy="154.6" rx="2.6" ry="3.2" fill="#222"/>
<line x1="1121.00" y1="261.30" x2="1191.00" y2="273.60" stroke="url(#g51)" stroke-width="8.40" stroke-linecap="butt"/>
<line x1="1195.00" y1="274.40" x2="1244.00" y2="283.50" stroke="url(#g52)" stroke-width="7.70" stroke-linecap="butt"/>
<line x1="1247.00" y1="284.20" x2="1287.00" y2="291.30" stroke="url(#g53)" stroke-width="7.00" stroke-linecap="butt"/>
<ellipse cx="1122" cy="261.5" rx="3.2" ry="4" fill="#222"/>
<rect x="1285.0" y="497.1" width="20.0" height="2.2" rx="1" fill="#7a7a7a"/>
<line x1="1290.80" y1="310.80" x2="1290.80" y2="498.00" stroke="url(#g54)" stroke-width="5.80" stroke-linecap="butt"/>
<circle cx="1290.8" cy="298.9" r="2.90" fill="#8a8a8a"/>
<line x1="1290.80" y1="298.90" x2="1290.80" y2="311.80" stroke="url(#g55)" stroke-width="5.80" stroke-linecap="butt"/>
<circle cx="1289.5" cy="304.3" r="0.80" fill="#d8d8d8"/>
<rect x="1239.0" y="504.1" width="22.0" height="2.2" rx="1" fill="#7a7a7a"/>
<line x1="1245.60" y1="304.50" x2="1245.60" y2="505.00" stroke="url(#g56)" stroke-width="6.20" stroke-linecap="butt"/>
<circle cx="1245.6" cy="284.6" r="3.10" fill="#8a8a8a"/>
<line x1="1245.60" y1="284.60" x2="1245.60" y2="305.50" stroke="url(#g57)" stroke-width="6.20" stroke-linecap="butt"/>
<circle cx="1244.2" cy="297.4" r="0.81" fill="#d8d8d8"/>
<rect x="1187.0" y="512.1" width="23.0" height="2.2" rx="1" fill="#7a7a7a"/>
<line x1="1193.30" y1="297.00" x2="1193.30" y2="513.00" stroke="url(#g58)" stroke-width="6.60" stroke-linecap="butt"/>
<circle cx="1193.3" cy="274.8" r="3.30" fill="#8a8a8a"/>
<line x1="1193.30" y1="274.80" x2="1193.30" y2="298.00" stroke="url(#g59)" stroke-width="6.60" stroke-linecap="butt"/>
<circle cx="1191.8" cy="289.4" r="0.86" fill="#d8d8d8"/>
<rect x="1125.0" y="521.6" width="25.0" height="2.2" rx="1" fill="#7a7a7a"/>
<line x1="1132.00" y1="289.50" x2="1132.00" y2="522.50" stroke="url(#g60)" stroke-width="7.30" stroke-linecap="butt"/>
<circle cx="1132.0" cy="264.1" r="3.65" fill="#8a8a8a"/>
<line x1="1132.00" y1="264.15" x2="1132.00" y2="290.50" stroke="url(#g61)" stroke-width="7.30" stroke-linecap="butt"/>
<circle cx="1130.4" cy="281.0" r="0.95" fill="#d8d8d8"/>
<path d="M1276 285.8 L1284 288.6 Q1290.8 291 1290.8 298 L1290.8 311" stroke="#6e6e6e" stroke-width="6" fill="none"/>
<path d="M1276.4 284.6 L1284.6 287.4 Q1291.8 290 1291.6 298 L1291.6 311" stroke="#b0b0b0" stroke-width="1.8" fill="none"/>
<line x1="612.00" y1="107.50" x2="728.00" y2="133.00" stroke="url(#g62)" stroke-width="7.60" stroke-linecap="butt"/>
<line x1="494.00" y1="79.90" x2="612.00" y2="107.50" stroke="url(#g63)" stroke-width="8.20" stroke-linecap="butt"/>
<line x1="728.00" y1="133.00" x2="748.00" y2="138.50" stroke="url(#g64)" stroke-width="6.60" stroke-linecap="butt"/>
<line x1="728.00" y1="135.00" x2="1056.70" y2="249.00" stroke="url(#g65)" stroke-width="7.60" stroke-linecap="butt"/>
<line x1="734.57" y1="137.28" x2="755.94" y2="144.69" stroke="url(#g66)" stroke-width="7.80" stroke-linecap="butt"/>
<line x1="1030.40" y1="239.88" x2="1056.70" y2="249.00" stroke="url(#g67)" stroke-width="8.00" stroke-linecap="butt"/>
<line x1="612.00" y1="109.50" x2="969.50" y2="235.00" stroke="url(#g68)" stroke-width="8.40" stroke-linecap="butt"/>
<line x1="619.15" y1="112.01" x2="642.39" y2="120.17" stroke="url(#g69)" stroke-width="8.60" stroke-linecap="butt"/>
<line x1="940.90" y1="224.96" x2="969.50" y2="235.00" stroke="url(#g70)" stroke-width="8.80" stroke-linecap="butt"/>
<line x1="484.00" y1="79.00" x2="856.00" y2="211.50" stroke="url(#g71)" stroke-width="9.40" stroke-linecap="butt"/>
<line x1="675.58" y1="147.24" x2="681.16" y2="149.23" stroke="url(#g72)" stroke-width="10.40" stroke-linecap="butt"/>
<line x1="829.96" y1="202.23" x2="856.00" y2="211.50" stroke="url(#g73)" stroke-width="9.80" stroke-linecap="butt"/>
<path d="M447 94.8 L479.5 80.2 Q484 78 489 79.8 L512 88.6" stroke="#4a4a4a" stroke-width="9.8" fill="none"/>
<path d="M446.2 93 L478.7 78.4 Q484.3 75.9 489.7 77.9 L512.7 86.7" stroke="#8e8e8e" stroke-width="4.4" fill="none"/>
<circle cx="453" cy="90" r="1.4" fill="#ddd"/><circle cx="505" cy="86" r="1.4" fill="#ddd"/>
<line x1="874.00" y1="220.40" x2="969.00" y2="235.70" stroke="url(#g74)" stroke-width="10.00" stroke-linecap="butt"/>
<line x1="980.00" y1="238.30" x2="1057.00" y2="251.40" stroke="url(#g75)" stroke-width="9.20" stroke-linecap="butt"/>
<line x1="1064.00" y1="252.30" x2="1071.00" y2="253.50" stroke="url(#g76)" stroke-width="8.40" stroke-linecap="round"/>
<ellipse cx="875" cy="220.6" rx="2.8" ry="4.6" fill="#444"/><ellipse cx="981.5" cy="238.6" rx="2.6" ry="4.2" fill="#444"/>
<rect x="1052.0" y="533.1" width="28.0" height="2.2" rx="1" fill="#7a7a7a"/>
<line x1="1059.70" y1="279.70" x2="1059.70" y2="534.00" stroke="url(#g77)" stroke-width="8.40" stroke-linecap="butt"/>
<circle cx="1059.7" cy="252.7" r="4.20" fill="#8a8a8a"/>
<line x1="1059.70" y1="252.70" x2="1059.70" y2="280.70" stroke="url(#g78)" stroke-width="8.40" stroke-linecap="butt"/>
<circle cx="1057.9" cy="269.8" r="1.09" fill="#d8d8d8"/>
<rect x="963.0" y="546.6" width="31.0" height="2.2" rx="1" fill="#7a7a7a"/>
<line x1="972.50" y1="267.70" x2="972.50" y2="547.50" stroke="url(#g79)" stroke-width="9.20" stroke-linecap="butt"/>
<circle cx="972.5" cy="238.1" r="4.60" fill="#8a8a8a"/>
<line x1="972.50" y1="238.10" x2="972.50" y2="268.70" stroke="url(#g80)" stroke-width="9.20" stroke-linecap="butt"/>
<circle cx="970.5" cy="256.7" r="1.20" fill="#d8d8d8"/>
<rect x="842.0" y="563.8" width="48.0" height="2.4" rx="1" fill="#7a7a7a"/>
<line x1="866.00" y1="228.00" x2="866.00" y2="565.00" stroke="url(#g81)" stroke-width="10.00" stroke-linecap="butt"/>
<path d="M852 210 L858 212.2 Q866 215 866 224 L866 232" stroke="#888" stroke-width="10" fill="none"/>
<path d="M851.6 209 L857.8 211.2 Q865.2 214 865.2 224 L865.2 232" stroke="#bdbdbd" stroke-width="6" fill="none"/>
<path d="M851.3 208.2 L857.6 210.4 Q864.6 213.2 864.6 224 L864.6 232" stroke="#e2e2e2" stroke-width="2.6" fill="none"/>
<path d="M138 269 L138 247 Q138 236.5 147 230.3 L166 221.7" stroke="#626262" stroke-width="9" fill="none"/>
<path d="M136.7 269 L136.7 247 Q136.7 235.3 146.4 228.9 L165.4 220.3" stroke="#a0a0a0" stroke-width="2.6" fill="none"/>
<polygon points="60.5,71.0 52.9,86.5 68.1,86.5" fill="#434343"/>
<polygon points="60.5,550.0 52.9,534.5 68.1,534.5" fill="#434343"/>
<path d="M60.5 85.5 L60.5 290.0 M60.5 331.0 L60.5 535.5" stroke="#434343" stroke-width="4.6"/>
<polygon points="117.5,604.5 132.8,612.5 133.2,597.3" fill="#434343"/>
<polygon points="855.0,625.5 839.3,632.7 839.7,617.5" fill="#434343"/>
<path d="M132.0 604.9 L439.9 613.7 M531.8 616.3 L840.5 625.1" stroke="#434343" stroke-width="5.2"/>
<polygon points="897.5,624.5 914.1,629.1 911.3,614.1" fill="#434343"/>
<path d="M911.7 621.8 L1058.8 593.8" stroke="#434343" stroke-width="5.3"/>
<polygon points="1306.8,548.2 1290.2,543.3 1292.8,558.3" fill="#434343"/>
<path d="M1292.5 550.6 L1146.0 575.6" stroke="#434343" stroke-width="5.3"/>
<polygon points="1347.5,287.0 1339.9,302.5 1355.1,302.5" fill="#434343"/>
<polygon points="1347.5,498.6 1339.9,483.1 1355.1,483.1" fill="#434343"/>
<path d="M1347.5 301.5 L1347.5 373.5 M1347.5 413.5 L1347.5 484.1" stroke="#434343" stroke-width="4.6"/>
<rect x="14.5" y="295.0" width="93.0" height="35.0" rx="9" fill="#fff" stroke="#f0f0f0" stroke-width="1" stroke-dasharray="1.5 1.5"/>
<text x="61.0" y="320.1" text-anchor="middle" font-size="23.6" font-weight="700" letter-spacing=".4" fill="#2c2c2c">3,15 m</text>
<rect x="451.0" y="594.5" width="69.0" height="35.0" rx="9" fill="#fff" stroke="#f0f0f0" stroke-width="1" stroke-dasharray="1.5 1.5"/>
<text x="486.3" y="619.6" text-anchor="middle" font-size="23.6" font-weight="700" letter-spacing=".4" fill="#2c2c2c">4 m</text>
<rect x="1063.0" y="566.0" width="75.0" height="34.0" rx="9" fill="#fff" stroke="#f0f0f0" stroke-width="1" stroke-dasharray="1.5 1.5"/>
<text x="1101.2" y="590.6" text-anchor="middle" font-size="23.6" font-weight="700" letter-spacing=".4" fill="#2c2c2c">22 m</text>
<rect x="1314.0" y="375.0" width="68.0" height="33.0" rx="9" fill="#fff" stroke="#f0f0f0" stroke-width="1" stroke-dasharray="1.5 1.5"/>
<text x="1348.0" y="399.1" text-anchor="middle" font-size="23.6" font-weight="700" letter-spacing=".4" fill="#2c2c2c">2 m</text>
<circle cx="178.0" cy="213.7" r="17" fill="#2f2f2f"/><text x="178.0" y="221.0" text-anchor="middle" font-size="20" font-weight="700" fill="#fff" stroke="#fff" stroke-width=".5">1</text>
<circle cx="311.0" cy="255.7" r="17" fill="#2f2f2f"/><text x="311.0" y="263.0" text-anchor="middle" font-size="20" font-weight="700" fill="#fff" stroke="#fff" stroke-width=".5">2</text>
<circle cx="483.8" cy="133.0" r="17" fill="#2f2f2f"/><text x="483.8" y="140.3" text-anchor="middle" font-size="20" font-weight="700" fill="#fff" stroke="#fff" stroke-width=".5">3</text>
<circle cx="862.2" cy="245.3" r="17" fill="#2f2f2f"/><text x="862.2" y="252.6" text-anchor="middle" font-size="20" font-weight="700" fill="#fff" stroke="#fff" stroke-width=".5">4</text>
<circle cx="866.2" cy="552.7" r="17" fill="#2f2f2f"/><text x="866.2" y="560.0" text-anchor="middle" font-size="20" font-weight="700" fill="#fff" stroke="#fff" stroke-width=".5">5</text>
</svg></body></html>
